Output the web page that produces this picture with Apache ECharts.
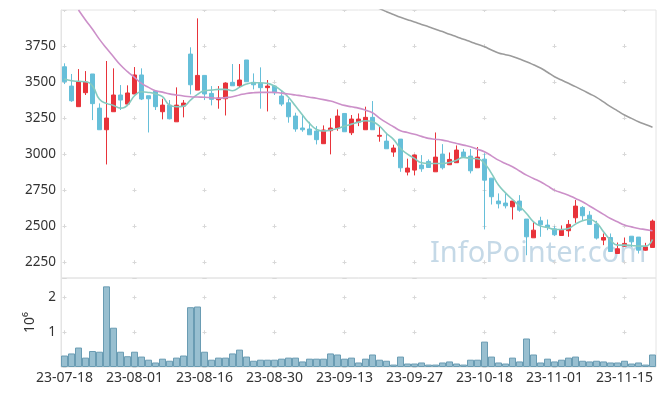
<!DOCTYPE html>
<html><head><meta charset="utf-8">
<script src="https://cdn.jsdelivr.net/npm/echarts@6/dist/echarts.min.js"></script>
<style>html,body{margin:0;padding:0;background:#fff}#c{width:665px;height:396px}</style>
</head><body><div id="c"></div>
<script>
const dates = ["23-07-18","23-07-19","23-07-20","23-07-21","23-07-24","23-07-25","23-07-26","23-07-27","23-07-28","23-07-31",
"23-08-01","23-08-02","23-08-03","23-08-04","23-08-07","23-08-08","23-08-09","23-08-10","23-08-11","23-08-14",
"23-08-16","23-08-17","23-08-18","23-08-21","23-08-22","23-08-23","23-08-24","23-08-25","23-08-28","23-08-29",
"23-08-30","23-08-31","23-09-01","23-09-04","23-09-05","23-09-06","23-09-07","23-09-08","23-09-11","23-09-12",
"23-09-13","23-09-14","23-09-15","23-09-18","23-09-19","23-09-20","23-09-21","23-09-22","23-09-25","23-09-26",
"23-09-27","23-10-04","23-10-05","23-10-06","23-10-10","23-10-11","23-10-12","23-10-13","23-10-16","23-10-17",
"23-10-18","23-10-19","23-10-20","23-10-23","23-10-24","23-10-25","23-10-26","23-10-27","23-10-30","23-10-31",
"23-11-01","23-11-02","23-11-03","23-11-06","23-11-07","23-11-08","23-11-09","23-11-10","23-11-13","23-11-14",
"23-11-15","23-11-16","23-11-17","23-11-20","23-11-21"];
const openP = [3606,3472,3329,3426,3556,3319,3169,3294,3410,3347,
3417,3549,3405,3437,3294,3340,3224,3333,3694,3444,
3546,3421,3377,3384,3498,3474,3653,3498,3491,3461,
3472,3403,3356,3264,3181,3174,3160,3072,3162,3181,
3282,3148,3222,3169,3255,3124,3090,3014,3104,2875,
2889,2924,2949,2877,3000,2926,2940,3014,2986,2905,
2965,2833,2674,2660,2634,2674,2549,2419,2537,2507,
2481,2435,2468,2558,2630,2576,2514,2403,2421,2310,
2361,2430,2424,2333,2352];
const closeP = [3502,3370,3502,3500,3350,3169,3250,3410,3375,3424,
3549,3382,3384,3329,3340,3245,3340,3354,3481,3546,
3417,3380,3389,3493,3474,3514,3502,3481,3461,3472,
3426,3347,3259,3174,3169,3134,3100,3167,3181,3264,
3155,3243,3243,3255,3169,3130,3037,3042,2905,2903,
2993,2898,2907,2979,2905,2963,3028,2981,2884,2979,
2819,2704,2655,2641,2674,2611,2426,2472,2509,2491,
2440,2472,2512,2639,2572,2512,2417,2421,2324,2343,
2380,2391,2333,2356,2535];
const lowP = [3486,3363,3329,3410,3236,3169,2928,3294,3306,3333,
3417,3375,3150,3306,3241,3241,3224,3255,3414,3444,
3375,3338,3315,3268,3474,3463,3502,3449,3315,3296,
3410,3333,3218,3155,3155,3134,3067,3072,2998,3162,
3155,3132,3194,3169,3169,3086,3037,2981,2877,2852,
2852,2877,2907,2877,2893,2926,2940,2981,2866,2905,
2477,2650,2623,2623,2546,2600,2298,2419,2426,2472,
2431,2435,2426,2523,2542,2512,2407,2368,2324,2310,
2356,2356,2310,2329,2352];
const highP = [3630,3556,3590,3576,3556,3352,3646,3595,3479,3477,
3604,3595,3405,3444,3384,3375,3463,3375,3741,3942,
3546,3472,3472,3498,3625,3625,3653,3560,3602,3514,
3479,3444,3384,3287,3271,3224,3194,3199,3248,3310,
3282,3271,3282,3329,3368,3194,3148,3065,3104,2968,
2998,2993,2963,3150,3069,3011,3060,3035,3035,3049,
3005,2833,2727,2727,2674,2715,2549,2535,2565,2546,
2500,2505,2542,2681,2639,2604,2537,2449,2449,2386,
2421,2430,2424,2384,2546];
const volume = [330000,390000,560000,270000,460000,440000,2320000,1130000,440000,310000,
440000,300000,210000,130000,240000,180000,270000,330000,1720000,1740000,
440000,210000,270000,270000,390000,500000,300000,180000,210000,210000,
210000,240000,270000,270000,160000,240000,240000,240000,390000,360000,
240000,270000,130000,240000,360000,210000,180000,70000,300000,100000,
100000,130000,70000,70000,130000,160000,100000,70000,210000,210000,
730000,300000,130000,100000,270000,160000,820000,360000,130000,240000,
160000,210000,270000,300000,180000,160000,180000,160000,130000,130000,
180000,100000,130000,70000,360000];
const ma5 = [3521,3509,3505,3502,3472,3380,3352,3338,3319,3340,
3405,3433,3428,3417,3398,3340,3329,3333,3375,3414,
3440,3444,3449,3449,3440,3463,3486,3495,3495,3491,
3472,3440,3394,3333,3271,3213,3171,3160,3167,3178,
3194,3208,3222,3231,3224,3194,3143,3102,3039,3000,
2970,2940,2935,2935,2935,2942,2958,2977,2970,2968,
2935,2866,2785,2731,2685,2639,2588,2530,2500,2491,
2477,2477,2484,2514,2537,2546,2523,2461,2403,2368,
2368,2366,2361,2361,2407];
const ma20 = [null,null,4000,3931,3866,3796,3734,3676,3618,3572,
3532,3491,3463,3440,3430,3418,3410,3403,3398,3396,
3394,3391,3388,3392,3398,3410,3421,3426,3428,3428,
3428,3423,3417,3410,3403,3395,3387,3378,3368,3353,
3338,3328,3319,3305,3287,3250,3218,3190,3162,3150,
3137,3123,3109,3103,3097,3086,3074,3062,3051,3034,
3016,2988,2958,2935,2912,2883,2854,2831,2808,2779,
2750,2732,2715,2692,2669,2640,2611,2582,2553,2530,
2507,2495,2484,2476,2468];
const ma120 = [null,null,null,null,null,null,null,null,null,null,
null,null,null,null,null,null,null,null,null,null,
null,null,null,null,null,null,null,null,null,null,
null,null,null,null,null,null,null,null,null,null,
null,null,null,null,4035,4010,3988,3968,3949,3933,
3917,3900,3884,3867,3850,3832,3815,3797,3780,3762,
3745,3722,3702,3690,3678,3660,3641,3620,3598,3568,
3537,3514,3491,3468,3444,3419,3394,3362,3329,3300,
3271,3248,3224,3205,3187];
const priceMin = 2140, priceMax = 4000, priceStep = 250;
const volMax = 2560000, volStep = 1000000;

const candles = openP.map((o, i) => [o, closeP[i], lowP[i], highP[i]]);
const font = 'Noto Sans';
const gridLine = '#e4e4e4';
const crossColor = '#d8d8d8';
const chart = echarts.init(document.getElementById('c'), null, {renderer: 'canvas'});
chart.setOption({
  animation: false,
  backgroundColor: '#fff',
  graphic: [{
    type: 'text', left: 430, top: 239, z: 0, silent: true,
    style: {text: 'InfoPointer.com', font: '29px "Noto Sans"', fill: 'rgba(150,186,212,0.55)'}
  }],
  grid: [
    {left: 61, top: 10, width: 595, height: 268, show: true, borderColor: gridLine, borderWidth: 1},
    {left: 61, top: 278, width: 595, height: 89, show: true, borderColor: gridLine, borderWidth: 1}
  ],
  xAxis: [
    {type: 'category', gridIndex: 0, data: dates, boundaryGap: true,
     axisLine: {show: false}, axisTick: {show: false}, axisLabel: {show: false},
     splitLine: {show: true, interval: 9, alignWithLabel: true,
       lineStyle: {color: crossColor, width: 1, type: [4, 32.03], dashOffset: 2}}},
    {type: 'category', gridIndex: 1, data: dates, boundaryGap: true,
     axisLine: {show: false}, axisTick: {show: false},
     axisLabel: {interval: 9, fontFamily: font, fontSize: 14, color: '#333', margin: 4},
     splitLine: {show: true, interval: 9, alignWithLabel: true,
       lineStyle: {color: crossColor, width: 1, type: [4, 30.77], dashOffset: 17.3}}}
  ],
  yAxis: [
    {type: 'value', gridIndex: 0, min: priceMin, max: priceMax, minInterval: priceStep, maxInterval: priceStep,
     axisLine: {show: true, lineStyle: {color: gridLine}}, axisTick: {show: false},
     axisLabel: {showMinLabel: false, showMaxLabel: false, fontFamily: font, fontSize: 13.5, color: '#333', margin: 5,
       formatter: v => String(v)},
     splitLine: {show: true, lineStyle: {color: crossColor, width: 1, type: [4, 66], dashOffset: 68.5}}},
    {type: 'value', gridIndex: 1, min: 0, max: volMax, interval: volStep,
     name: '10⁶', nameLocation: 'middle', nameRotate: 90, nameGap: 24,
     nameTextStyle: {fontFamily: font, fontSize: 14, color: '#333'},
     axisLine: {show: true, lineStyle: {color: gridLine}}, axisTick: {show: false},
     axisLabel: {showMinLabel: false, showMaxLabel: false, fontFamily: font, fontSize: 13.5, color: '#333', margin: 5,
       formatter: v => String(v / 1000000)},
     splitLine: {show: true, lineStyle: {color: crossColor, width: 1, type: [4, 66], dashOffset: 68.5}}}
  ],
  series: [
    {type: 'candlestick', xAxisIndex: 0, yAxisIndex: 0, data: candles, barWidth: 5, z: 3,
     itemStyle: {color: '#e8333a', color0: '#66bfd9', borderColor: '#e8333a', borderColor0: '#66bfd9', borderWidth: 1}},
    {type: 'line', xAxisIndex: 0, yAxisIndex: 0, data: ma5, smooth: true, symbol: 'none', z: 4,
     lineStyle: {color: '#86cbc0', width: 1.6}},
    {type: 'line', xAxisIndex: 0, yAxisIndex: 0, data: ma20, smooth: true, symbol: 'none', z: 4,
     lineStyle: {color: '#cc90c9', width: 1.6}},
    {type: 'line', xAxisIndex: 0, yAxisIndex: 0, data: ma120, smooth: true, symbol: 'none', z: 4,
     lineStyle: {color: '#9b9b9b', width: 1.6}},
    {type: 'bar', xAxisIndex: 1, yAxisIndex: 1, data: volume, barWidth: '100%', barCategoryGap: '0%', z: 3,
     itemStyle: {color: 'rgba(146,188,206,0.95)', borderColor: '#6a9cb3', borderWidth: 1}}
  ]
});
</script></body></html>
